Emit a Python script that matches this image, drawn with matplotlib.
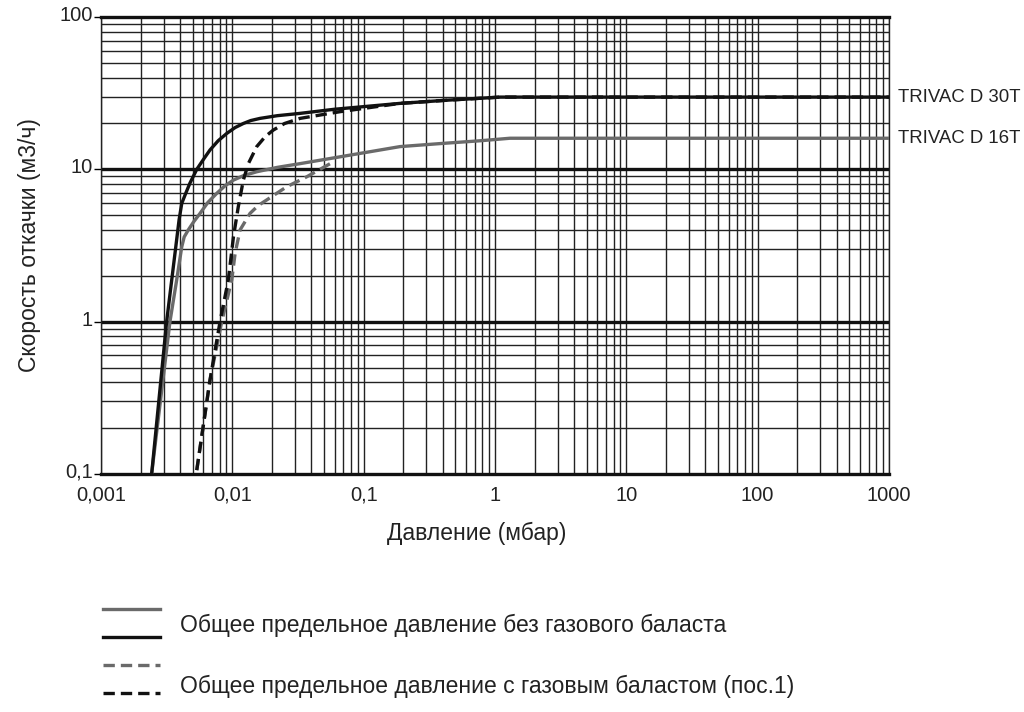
import matplotlib
matplotlib.use("Agg")
import matplotlib.pyplot as plt
from matplotlib.lines import Line2D
from matplotlib.ticker import LogLocator, NullFormatter
import matplotlib.transforms as mtransforms

plt.rcParams['font.family'] = ['Liberation Sans', 'DejaVu Sans']

# pressure (mbar) / pumping speed (m3/h)
d30_x = [0.00243, 0.00316, 0.00393, 0.00412, 0.0044, 0.00475, 0.00536, 0.0061,
         0.00676, 0.0078, 0.00906, 0.0105, 0.01213, 0.0138, 0.01625, 0.022, 0.0328,
         0.06, 0.189, 0.45, 1.1, 1000]
d30_y = [0.1, 1, 4.65, 5.98, 6.9, 8.1, 10, 11.8, 13.4, 15.4, 17.2, 18.8, 20.0, 20.9,
         21.6, 22.5, 23.3, 24.8, 27.1, 28.5, 29.8, 29.8]

d16_x = [0.00243, 0.00335, 0.00377, 0.00412, 0.0043, 0.00462, 0.0051, 0.00568,
         0.0065, 0.0076, 0.0088, 0.0102, 0.0122, 0.01534, 0.022, 0.0328, 0.0788,
         0.189, 0.4, 0.77, 1.3, 1000]
d16_y = [0.1, 1, 1.88, 3.1, 3.6, 4.0, 4.55, 5.14, 6.05, 6.95, 7.8, 8.5, 9.1, 9.64,
         10.3, 10.9, 12.4, 14.1, 14.8, 15.4, 16, 16]

d30_gb_x = [0.00536, 0.00676, 0.00806, 0.00932, 0.0102, 0.0111, 0.01213, 0.01324,
            0.01534, 0.0178, 0.0205, 0.025, 0.0328, 0.066, 0.189, 0.45, 1.1, 1000]
d30_gb_y = [0.106, 0.414, 1, 1.88, 3.61, 5.68, 8.5, 10.9, 14.1, 16.4, 18.1, 20.0,
            21.6, 23.9, 27.1, 28.5, 29.8, 29.8]

d16_gb_x = [0.00536, 0.00676, 0.0083, 0.0099, 0.0105, 0.01145, 0.01364, 0.0158,
            0.0183, 0.0220, 0.0260, 0.0369, 0.0588]
d16_gb_y = [0.106, 0.414, 1, 1.88, 2.81, 4.0, 5.14, 5.8, 6.3, 7.0, 7.69, 8.94, 11.2]

x_ticks = [0.001, 0.01, 0.1, 1, 10, 100, 1000]
x_labels = ["0,001", "0,01", "0,1", "1", "10", "100", "1000"]
y_ticks = [0.1, 1, 10, 100]
y_labels = ["0,1", "1", "10", "100"]

BLACK = "#111111"
GREY = "#6a6a6a"
TXT = "#222222"

fig = plt.figure(figsize=(10.24, 7.12), dpi=100)
ax = fig.add_axes([101 / 1024, 1 - 474 / 712, 788 / 1024, 457 / 712])
ax.set_xscale("log")
ax.set_yscale("log")
ax.set_xlim(0.001, 1000)
ax.set_ylim(0.1, 100)

# grid
ax.xaxis.set_minor_locator(LogLocator(base=10, subs=range(2, 10), numticks=20))
ax.yaxis.set_minor_locator(LogLocator(base=10, subs=range(2, 10), numticks=20))
ax.xaxis.set_minor_formatter(NullFormatter())
ax.yaxis.set_minor_formatter(NullFormatter())
ax.grid(which="both", axis="x", color="#222222", lw=1.0)
ax.grid(which="minor", axis="y", color="#222222", lw=1.0)
for yv in [1, 10]:
    ax.axhline(yv, color=BLACK, lw=2.4, zorder=1)
ax.set_axisbelow(True)

ax.set_xticks(x_ticks)
ax.set_xticklabels(x_labels)
ax.set_yticks(y_ticks)
ax.set_yticklabels(y_labels)
ax.tick_params(axis="x", which="both", length=0, labelsize=14.5, pad=8.5, labelcolor=TXT)
ax.tick_params(axis="y", which="major", length=5, width=1, labelsize=14.5, pad=1,
               labelcolor=TXT)
ax.tick_params(axis="y", which="minor", length=0)
# y tick labels sit a little above their ticks in the original
shift = mtransforms.ScaledTranslation(0, 0.035, fig.dpi_scale_trans)
for lab in ax.get_yticklabels():
    lab.set_transform(lab.get_transform() + shift)

for side in ["top", "bottom"]:
    ax.spines[side].set_linewidth(2.4)
    ax.spines[side].set_color(BLACK)
for side in ["left", "right"]:
    ax.spines[side].set_linewidth(1.0)
    ax.spines[side].set_color("#222222")

# curves
ax.plot(d16_x, d16_y, color=GREY, lw=2.4, zorder=3, solid_joinstyle="round")
ax.plot(d30_x, d30_y, color=BLACK, lw=2.4, zorder=4, solid_joinstyle="round")
ax.plot(d16_gb_x, d16_gb_y, color=GREY, lw=2.4, dashes=(3.4, 1.8), zorder=5)
ax.plot(d30_gb_x, d30_gb_y, color=BLACK, lw=2.4, dashes=(3.4, 1.8), zorder=6)

# model labels on the right
trans = mtransforms.blended_transform_factory(ax.transAxes, ax.transData)
ax.text(1.011, d30_y[-1], "TRIVAC D 30T", transform=trans, ha="left", va="center",
        fontsize=13.4, color=TXT, clip_on=False)
ax.text(1.011, d16_y[-1], "TRIVAC D 16T", transform=trans, ha="left", va="center",
        fontsize=13.4, color=TXT, clip_on=False)

fig.text(477 / 1024, 1 - 533 / 712, "Давление (мбар)", ha="center", va="center",
         fontsize=16.5, color=TXT)
fig.text(30 / 1024, 1 - 245 / 712, "Скорость откачки (м3/ч)", ha="center", va="center",
         rotation=90, fontsize=16.5, color=TXT)

# legend drawn by hand
x0, x1 = 103 / 1024, 160 / 1024
fig.add_artist(Line2D([x0, x1], [1 - 609 / 712] * 2, color=GREY, lw=2.4))
fig.add_artist(Line2D([x0, x1], [1 - 637 / 712] * 2, color=BLACK, lw=2.4))
fig.add_artist(Line2D([x0, x1], [1 - 665 / 712] * 2, color=GREY, lw=2.4, dashes=(3.4, 1.8)))
fig.add_artist(Line2D([x0, x1], [1 - 693 / 712] * 2, color=BLACK, lw=2.4, dashes=(3.4, 1.8)))
fig.text(180 / 1024, 1 - 625 / 712, "Общее предельное давление без газового баласта",
         ha="left", va="center", fontsize=16.5, color=TXT)
fig.text(180 / 1024, 1 - 686 / 712, "Общее предельное давление с газовым баластом (пос.1)",
         ha="left", va="center", fontsize=16.5, color=TXT)

fig.savefig("out.png", dpi=100)
